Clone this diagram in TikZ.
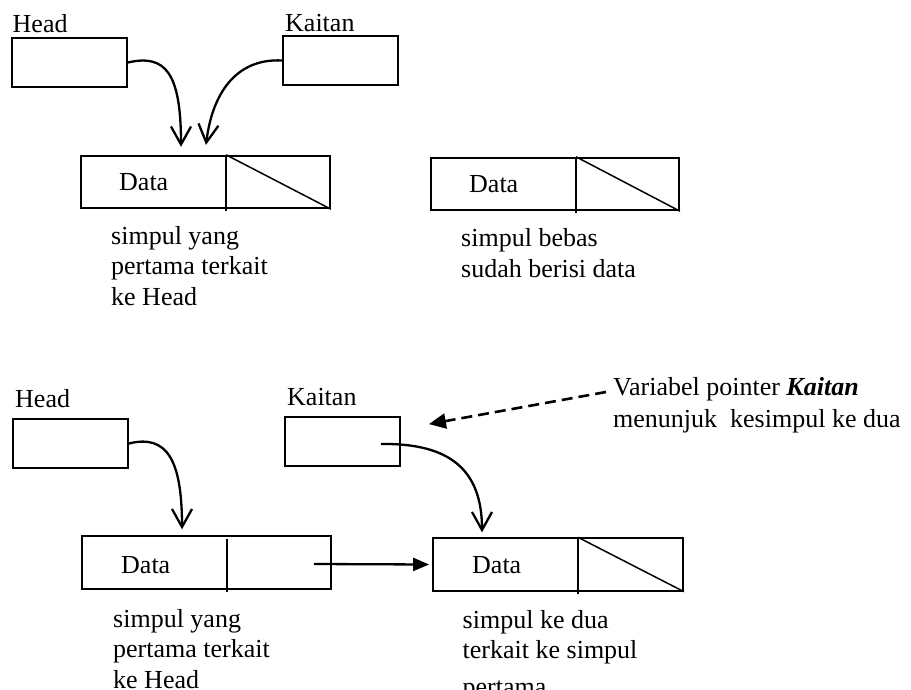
\documentclass[tikz,border=0pt]{standalone}
\usepackage{fontspec}
\setmainfont{Liberation Serif}
\usetikzlibrary{arrows.meta,calc}
\begin{document}
\begin{tikzpicture}[x=1pt,y=-1pt,
  every node/.style={font=\fontsize{26}{30.5}\selectfont, inner sep=0pt},
  ptrbox/.style={draw, line width=1.8pt, minimum width=115pt, minimum height=49pt},
  databox/.style={draw, line width=1.8pt, minimum width=249pt, minimum height=52.5pt},
  lbl/.style={anchor=base west},
  desc/.style={anchor=base west, align=left},
  link/.style={line width=2.3pt, -{Straight Barb[length=18pt,width=20pt,line width=2.3pt]}},
  nextlink/.style={line width=2.3pt, -{Triangle[length=16pt,width=13pt]}},
  divider/.style={line width=1.5pt},
  dashlink/.style={line width=2.6pt, dash pattern=on 11pt off 6pt, -{Triangle[length=17pt,width=15pt]}},
]
\useasboundingbox (0,0) rectangle (911,690);

% ---------- top part ----------
\node[lbl] (headAl) at (12.5,33) {Head};
\node[ptrbox] (headA) at (69.5,62.5) {};
\node[lbl] (kaitAl) at (285,32) {Kaitan};
\node[ptrbox] (kaitA) at (340.5,60.5) {};

\node[databox] (dataA) at (205.5,182) {};
\node[lbl] (dataAt) at (119,191) {Data};
\draw[divider] ($(dataA.north west)+(146,0)$) -- ($(dataA.south west)+(146,2)$);
\draw[divider] ($(dataA.north west)+(146,0)$) -- (dataA.south east);
\node[desc] (descA) at (111,305) {simpul yang\\pertama terkait\\ke Head};

\node[databox, minimum width=248pt] (freeA) at (555,184) {};
\node[lbl] (freeAt) at (469,193) {Data};
\draw[divider] ($(freeA.north west)+(146,0)$) -- ($(freeA.south west)+(146,2)$);
\draw[divider] ($(freeA.north west)+(146,0)$) -- (freeA.south east);
\node[desc] (descF) at (461,277) {simpul bebas\\sudah berisi data};

\draw[link] (headA.east) .. controls (165,54) and (181,72) .. ($(dataA.north)+(-24.5,-8)$);
\draw[link] (kaitA.west) .. controls (235,58) and (212,95) .. ($(dataA.north)+(0.5,-10)$);

% ---------- bottom part ----------
\node[lbl] (headBl) at (15,407) {Head};
\node[ptrbox] (headB) at (70.5,443.5) {};
\node[lbl] (kaitBl) at (287,405) {Kaitan};
\node[ptrbox] (kaitB) at (342.5,441.5) {};

\node[databox] (dataB) at (206.5,562.5) {};
\node[lbl] (dataBt) at (121,573) {Data};
\draw[divider] ($(dataB.north west)+(146,4)$) -- ($(dataB.south west)+(146,2)$);
\node[desc] (descB) at (113,688) {simpul yang\\pertama terkait\\ke Head};

\node[databox, minimum width=250pt] (dataC) at (558,564.5) {};
\node[lbl] (dataCt) at (472,573) {Data};
\draw[divider] ($(dataC.north west)+(146,0)$) -- ($(dataC.south west)+(146,2)$);
\draw[divider] ($(dataC.north west)+(146,0)$) -- (dataC.south east);
\node[desc] (descC) at (462.5,695) {simpul ke dua\\terkait ke simpul\\[6pt]pertama};

\node[desc] (note) at (613,427) {Variabel pointer \textbf{\textit{Kaitan}}\\[1.5pt]menunjuk~~kesimpul ke dua};

\draw[link] (headB.east) .. controls (167,434) and (182,460) .. ($(dataB.north)+(-24.5,-6)$);
\draw[link] ($(kaitB.center)+(38.5,2.5)$) .. controls (450,443) and (482,470) .. ($(dataC.north)+(-76,-5)$);
\draw[nextlink] ($(dataB.east)+(-18,1.5)$) -- ($(dataC.west)+(-3,0)$);
\draw[dashlink] ($(note.base west)+(-7,-35)$) -- ($(kaitB.north east)+(28,8)$);
\end{tikzpicture}
\end{document}
